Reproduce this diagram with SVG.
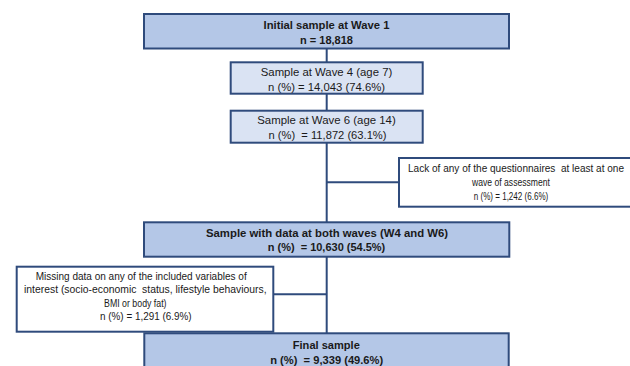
<svg xmlns="http://www.w3.org/2000/svg" width="630" height="366" viewBox="0 0 630 366">
<style>
.box{stroke:#2f4b7c;stroke-width:2}
.dark{fill:#b4c7e7}
.light{fill:#dae3f3}
.white{fill:#ffffff}
.conn{stroke:#2f4b7c;stroke-width:2;fill:none}
text{font-family:"Liberation Sans",Arial,sans-serif;font-size:11px;fill:#1a1a1a;text-anchor:middle}
.b{font-weight:bold;font-size:11.5px}
.s{font-size:10px}
</style>
<rect width="630" height="366" fill="#ffffff"/>
<g id="connectors">
<line class="conn" x1="326.7" y1="48" x2="326.7" y2="334"/>
<line class="conn" x1="326.7" y1="182.3" x2="399" y2="182.3"/>
<line class="conn" x1="273.3" y1="294.3" x2="326.7" y2="294.3"/>
</g>
<g id="initial">
<rect class="box dark" x="144" y="14" width="365" height="34.5"/>
<text class="b" x="326.5" y="28.5" textLength="126" lengthAdjust="spacingAndGlyphs">Initial sample at Wave 1</text>
<text class="b" x="326.5" y="43.5" textLength="53" lengthAdjust="spacingAndGlyphs">n = 18,818</text>
</g>
<g id="wave4">
<rect class="box light" x="230.7" y="62.3" width="192" height="31.4"/>
<text x="326.5" y="75.5" textLength="131.5" lengthAdjust="spacingAndGlyphs">Sample at Wave 4 (age 7)</text>
<text x="326.5" y="91" textLength="117" lengthAdjust="spacingAndGlyphs">n (%) = 14,043 (74.6%)</text>
</g>
<g id="wave6">
<rect class="box light" x="230.7" y="110.7" width="192" height="32"/>
<text x="326.5" y="123.5" textLength="138.5" lengthAdjust="spacingAndGlyphs">Sample at Wave 6 (age 14)</text>
<text x="327.5" y="139" textLength="118" lengthAdjust="spacingAndGlyphs" xml:space="preserve">n (%)  = 11,872 (63.1%)</text>
</g>
<g id="lack">
<rect class="box white" x="399" y="158" width="235" height="48.7"/>
<text class="s" x="516" y="172" textLength="216" lengthAdjust="spacingAndGlyphs" xml:space="preserve">Lack of any of the questionnaires  at least at one</text>
<text x="511" y="186" textLength="78" lengthAdjust="spacingAndGlyphs">wave of assessment</text>
<text x="511" y="199.5" textLength="74.5" lengthAdjust="spacingAndGlyphs">n (%) = 1,242 (6.6%)</text>
</g>
<g id="both">
<rect class="box dark" x="144" y="222.3" width="365.3" height="34.4"/>
<text class="b" x="327" y="237" textLength="242" lengthAdjust="spacingAndGlyphs">Sample with data at both waves (W4 and W6)</text>
<text class="b" x="326.5" y="251" textLength="117.5" lengthAdjust="spacingAndGlyphs" xml:space="preserve">n (%)  = 10,630 (54.5%)</text>
</g>
<g id="missing">
<rect class="box white" x="16.7" y="266.7" width="256.6" height="65"/>
<text x="141.2" y="279.5" textLength="211" lengthAdjust="spacingAndGlyphs">Missing data on any of the included variables of</text>
<text x="145.3" y="293" textLength="242.5" lengthAdjust="spacingAndGlyphs" xml:space="preserve">interest (socio-economic  status, lifestyle behaviours,</text>
<text x="135.3" y="306.5" textLength="62.5" lengthAdjust="spacingAndGlyphs">BMI or body fat)</text>
<text x="145.8" y="320" textLength="91.5" lengthAdjust="spacingAndGlyphs">n (%) = 1,291 (6.9%)</text>
</g>
<g id="final">
<rect class="box dark" x="144.3" y="333.3" width="364.4" height="40"/>
<text class="b" x="326.3" y="348.5" textLength="67" lengthAdjust="spacingAndGlyphs">Final sample</text>
<text class="b" x="326.7" y="364" textLength="113" lengthAdjust="spacingAndGlyphs" xml:space="preserve">n (%)  = 9,339 (49.6%)</text>
</g>
</svg>
